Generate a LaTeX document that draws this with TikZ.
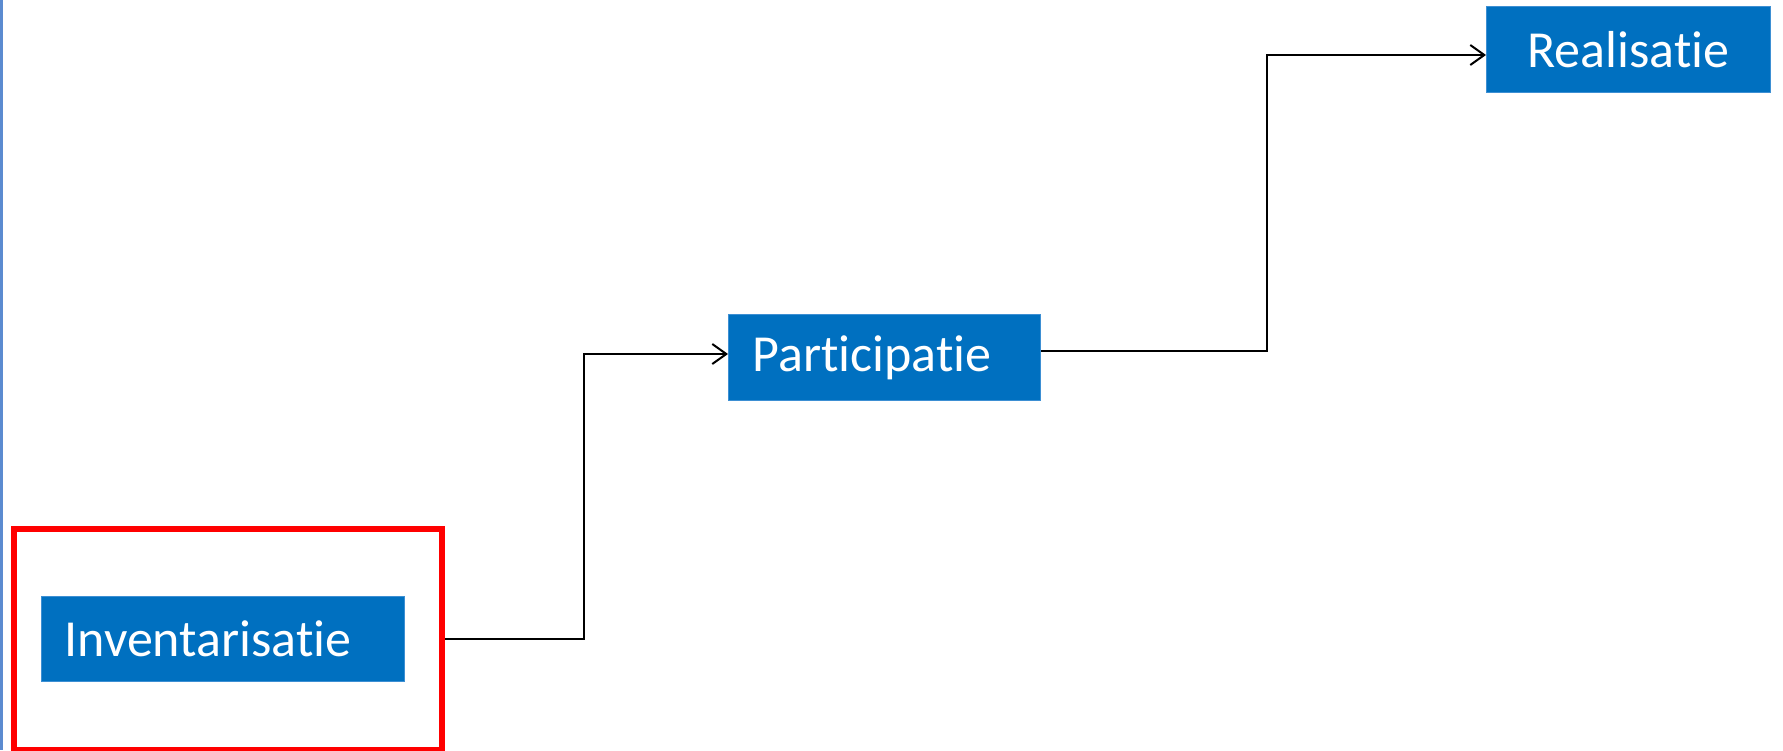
\documentclass[tikz,border=0pt]{standalone}
\usepackage{fontspec}
\setmainfont{Carlito}[RawFeature={-liga;-clig}]
\usetikzlibrary{arrows.meta}
\definecolor{boxblue}{HTML}{0070C0}
\definecolor{boxedge}{HTML}{3D8FD3}
\definecolor{sideline}{HTML}{5B8BD0}
\begin{document}
\begin{tikzpicture}[x=1pt,y=-1pt,
  stage/.style={fill=boxblue, draw=boxedge, line width=1pt, text=white, inner ysep=0pt,
    font=\fontsize{52}{60}\selectfont, anchor=north west},
  conn/.style={draw=black, line width=2pt, -{Straight Barb[length=14pt,width=20pt,line width=2pt]}}]
\useasboundingbox (0,0) rectangle (1783,750);
\fill[white] (0,0) rectangle (1783,750);
\draw[sideline, line width=2.5pt] (1.3,0) -- (1.3,750);
\node (frame) [draw=red, line width=6pt, minimum width=428pt, minimum height=221pt, inner sep=0pt, anchor=north west] at (11,526) {};
\node (inv) [stage, minimum height=85pt, text width=317pt, inner xsep=23pt, align=left] at (41,596) {Inventarisatie};
\node (part) [stage, minimum height=86pt, text width=264pt, inner xsep=24pt, align=left] at (728,314) {Participatie};
\node (real) [stage, minimum height=86pt, minimum width=284pt, inner xsep=0pt, align=center] at (1486,6) {Realisatie};
\coordinate (j1) at (584,354);
\coordinate (j2) at (1267,55);
\draw[conn] (frame.east |- inv.center) -| (j1) -- (part.west |- j1);
\draw[conn] ([yshift=7pt]part.east) -| (j2) -- (real.west |- j2);
\end{tikzpicture}
\end{document}
